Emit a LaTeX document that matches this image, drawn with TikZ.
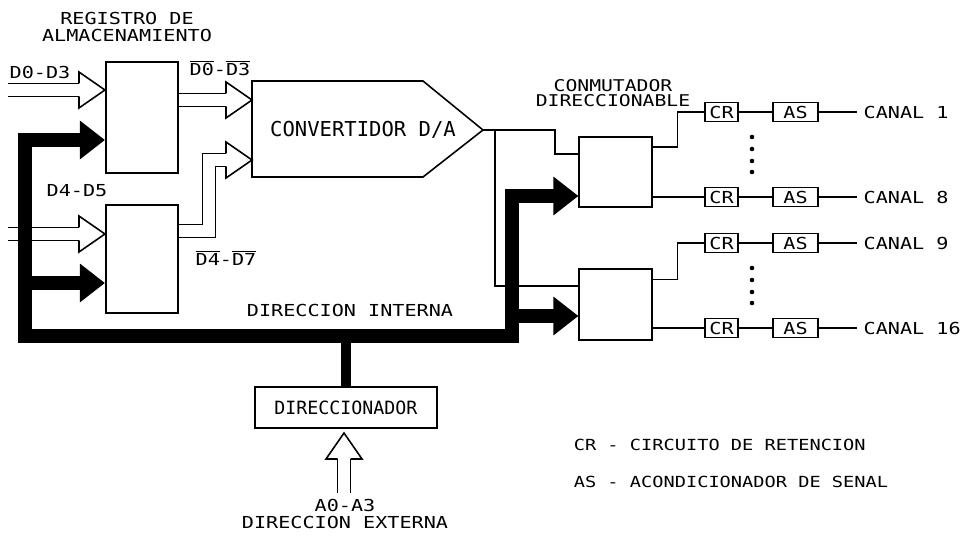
\documentclass[tikz,border=0pt]{standalone}
\usepackage{fontspec}
\newfontfamily\plotter[FakeStretch=1.22]{DejaVu Sans Mono}
\newfontfamily\plotterN{DejaVu Sans Mono}
\usetikzlibrary{positioning,arrows.meta}

\tikzset{hueca/.pic={\draw[line join=miter] (-26,6.5) -- (-26,18) -- (0,0) -- (-26,-18) -- (-26,-6.5);}}

\begin{document}
\begin{tikzpicture}[x=0.02cm, y=-0.02cm, line width=0.9pt,
  font=\plotter\fontsize{9.4}{10.2}\selectfont,
  bloque/.style={draw, minimum width=1.45cm, inner sep=0pt},
  mini/.style={draw, minimum height=0.38cm, inner sep=0pt},
  bus/.style={line width=8pt, line join=miter},
  dbl/.style={double, double distance=6.5pt, line join=miter, shorten >=0.52cm},
  tri/.style={-{Triangle[length=0.5cm, width=0.74cm]}},
  tritri/.style={{Triangle[length=0.5cm, width=0.74cm]}-{Triangle[length=0.5cm, width=0.74cm]}}]
  \useasboundingbox (0,0) rectangle (968,537);

  % bloques
  \node[bloque, minimum height=2.22cm] (reg1) at (142,117.5) {};
  \node[bloque, minimum height=2.16cm] (reg2) at (142,259) {};
  \node[bloque, minimum height=1.4cm]  (sw1)  at (615.5,172) {};
  \node[bloque, minimum height=1.42cm] (sw2)  at (615.5,304.5) {};
  \node[draw, minimum width=3.64cm, minimum height=0.82cm,
        font=\plotterN\fontsize{10.4}{12}\selectfont] (dir) at (346,407.5) {DIRECCIONADOR};
  \draw (252,81) -- (423,81) -- (483,130) coordinate (cout) -- (423,177) -- (252,177) -- cycle;
  \node[font=\plotterN\fontsize{11.7}{13}\selectfont] (conv) at (363,130) {CONVERTIDOR D/A};
  \coordinate (c1) at (252,100);
  \coordinate (c2) at (252,160);

  % titulos
  \node[align=center] (tit1) at (127,27) {REGISTRO DE\\ALMACENAMIENTO};
  \node[align=center, font=\plotter\fontsize{9.2}{8.6}\selectfont] (tit2) at (613,93) {CONMUTADOR\\DIRECCIONABLE};

  % entradas de datos
  \coordinate (e1) at (8,90);
  \coordinate (e2) at (8,234);
  \draw[dbl] (e1) -- (reg1.west |- e1);
  \pic at (reg1.west |- e1) {hueca};
  \draw[dbl] (e2) -- (reg2.west |- e2);
  \pic at (reg2.west |- e2) {hueca};
  \node (d03) at (40,72) {D0-D3};
  \node (d45) at (77,191) {D4-D5};

  % salidas de los registros
  \coordinate (q) at (209,231);
  \draw[dbl] (reg1.east |- c1) -- (c1);
  \pic at (c1) {hueca};
  \draw[dbl] (reg2.east |- q) -- (q) -- (q |- c2) -- (c2);
  \pic at (c2) {hueca};
  \node (nd03) at (220,68) {$\overline{\mbox{D0}}$-$\overline{\mbox{D3}}$};
  \node (nd47) at (226,258) {$\overline{\mbox{D4}}$-$\overline{\mbox{D7}}$};

  % bus de direccion interna
  \coordinate (bA) at (25,140);
  \coordinate (bB) at (25,336);
  \coordinate (bC) at (512,336);
  \coordinate (bD) at (512,196);
  \coordinate (bE) at (25,283);
  \coordinate (bF) at (512,316);
  \draw[bus, tritri] (reg1.west |- bA) -- (bA) -- (bB) -- (bC) -- (bD) -- (sw1.west |- bD);
  \draw[bus, tri] (bE) -- (reg2.west |- bE);
  \draw[bus, tri] (bF) -- (sw2.west |- bF);
  \draw[bus, line width=6pt] (dir) -- (dir |- bC);
  \node (dint) at (350,310) {DIRECCION INTERNA};

  % salida analogica al conmutador
  \draw (cout) -- ++(72,0) |- ([yshift=0.36cm]sw1.west);
  \draw ([xshift=0.24cm]cout) |- ([yshift=0.37cm]sw2.west);

  % canales
  \foreach \n/\y in {1/112, 8/197, 9/243, 16/328} {
    \node[mini, minimum width=0.66cm] (cr\n) at (721.5,\y) {CR};
    \node[mini, minimum width=0.9cm] (as\n) at (795.5,\y) {AS};
    \node[anchor=west] (ch\n) at (857,\y) {CANAL \n};
    \draw (cr\n) -- (as\n);
    \draw (as\n) -- (ch\n);
  }
  \draw ([yshift=0.5cm]sw1.east) -- ++(25,0) |- (cr1);
  \draw (sw1.east |- cr8) -- (cr8);
  \draw ([yshift=0.5cm]sw2.east) -- ++(25,0) |- (cr9);
  \draw (sw2.east |- cr16) -- (cr16);
  \foreach \y in {137,149,161,172,268,280,292,303}
    \fill (752,\y) circle (1.3pt);

  % direccion externa
  \coordinate (ext) at (344,493);
  \coordinate (dtip) at (344,433);
  \draw[dbl] (ext) -- (dtip);
  \pic[rotate=90] at (dtip) {hueca};
  \node[align=center] (dext) at (345,514) {A0-A3\\DIRECCION EXTERNA};

  % leyenda
  \node[anchor=west, inner sep=0pt, font=\plotter\fontsize{8.7}{10}\selectfont] (ley1) at (573,445) {CR - CIRCUITO DE RETENCION};
  \node[anchor=west, inner sep=0pt, font=\plotter\fontsize{8.7}{10}\selectfont] (ley2) at (573,482) {AS - ACONDICIONADOR DE SENAL};
\end{tikzpicture}
\end{document}
